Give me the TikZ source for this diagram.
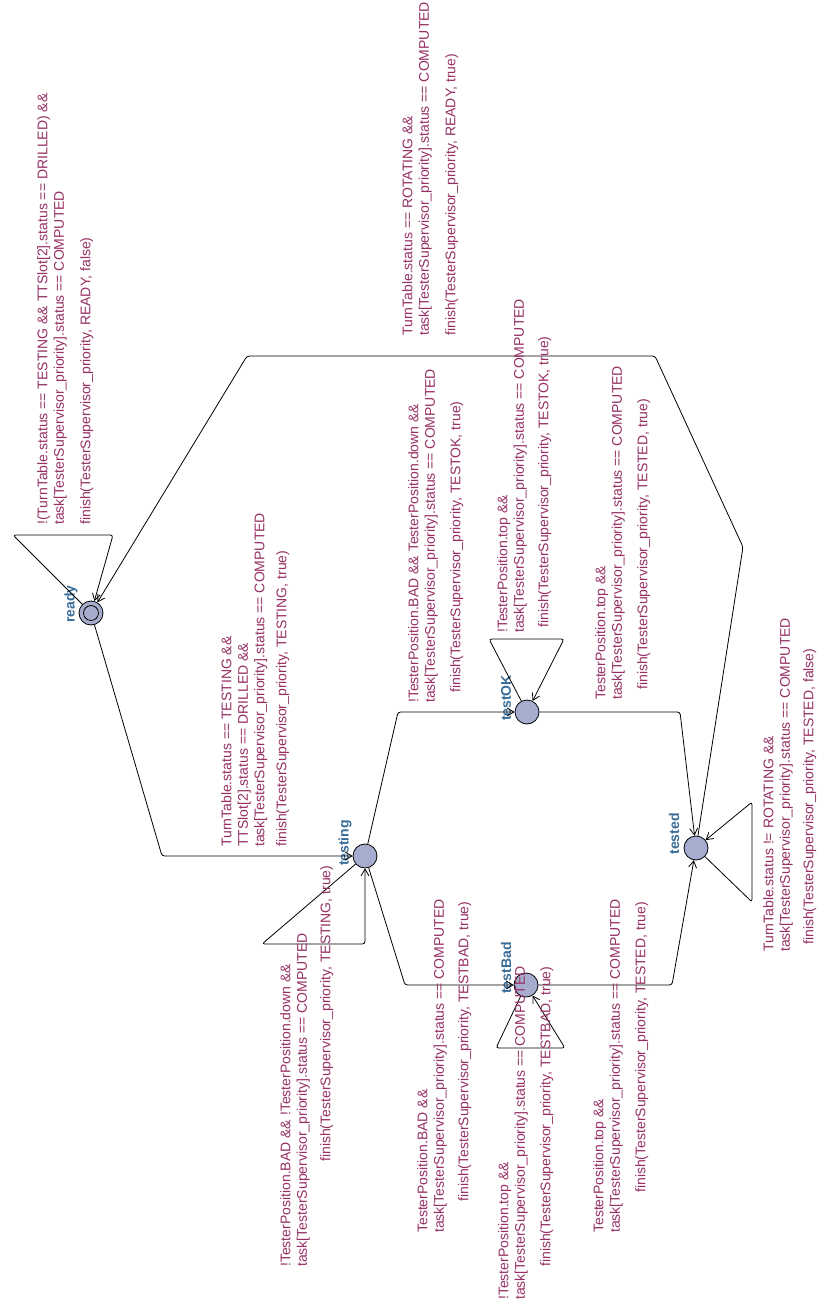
\documentclass[tikz,border=0pt]{standalone}
\usepackage{fontspec}
\setmainfont{Liberation Sans}
\usetikzlibrary{arrows.meta}
\definecolor{locfill}{RGB}{167,173,207}
\definecolor{locblue}{RGB}{58,108,152}
\definecolor{lblpurple}{RGB}{150,48,100}

\begin{document}
\begin{tikzpicture}[
        x=0.75pt, y=-0.75pt,
        loc/.style={circle, draw=black, line width=0.6pt, fill=locfill, minimum size=18pt, inner sep=0pt},
        initloc/.style={loc, path picture={\draw[line width=0.6pt] (path picture bounding box.center) circle [radius=5.6pt];}},
        locname/.style={rotate=90, inner sep=0pt, text=locblue, font=\bfseries\fontsize{10.5}{12}\selectfont},
        guard/.style={rotate=90, anchor=north west, align=left, inner sep=0pt, text=lblpurple, font=\fontsize{10.5}{12.4}\selectfont},
        trans/.style={draw=black, line width=0.6pt, rounded corners=2pt, -{Straight Barb[length=5pt, width=6pt]}}
    ]
    \useasboundingbox[fill=white] (0,0) rectangle (819,1306);

    % locations
    \node (ready) [initloc] at (91,613) {};
    \node (testing) [loc] at (365,856) {};
    \node (testOK) [loc] at (527,712) {};
    \node (testBad) [loc] at (526,985) {};
    \node (tested) [loc] at (696,848) {};

    \node (ready_name) [locname] at (71,604) {ready};
    \node (testing_name) [locname] at (345,843) {testing};
    \node (testOK_name) [locname] at (506,698) {testOK};
    \node (testBad_name) [locname] at (506,968) {testBad};
    \node (tested_name) [locname] at (674,834) {tested};

    % transitions
    \draw [trans] (ready) -- (13,535) -- (113,535) -- (ready);
    \draw [trans] (ready) -- (162,856) -- (testing);
    \draw [trans] (testing) -- (262,944) -- (365,944) -- (testing);
    \draw [trans] (testing) -- (398,712) -- (testOK);
    \draw [trans] (testing) -- (405,985) -- (testBad);
    \draw [trans] (testOK) -- (489,639) -- (564,639) -- (testOK);
    \draw [trans] (testBad) -- (496,1048) -- (565,1048) -- (testBad);
    \draw [trans] (testOK) -- (680,712) -- (tested);
    \draw [trans] (testBad) -- (672,985) -- (tested);
    \draw [trans] (tested) -- (752,902) -- (752,802) -- (tested);
    \draw [trans] (tested) -- (743,547) -- (655,356) -- (247,356) -- (ready);

    % guards and updates
    \node (ready_loop_guard) [guard] at (37,525) {!(TurnTable.status == TESTING \&\& TTSlot[2].status == DRILLED) \&\&\\task[TesterSupervisor\_priority].status == COMPUTED};
    \node (ready_loop_upd) [guard] at (80,525) {finish(TesterSupervisor\_priority, READY, false)};

    \node (ready_testing_guard) [guard] at (221,847) {TurnTable.status == TESTING \&\&\\TTSlot[2].status == DRILLED \&\&\\task[TesterSupervisor\_priority].status == COMPUTED};
    \node (ready_testing_upd) [guard] at (276,847) {finish(TesterSupervisor\_priority, TESTING, true)};

    \node (testing_loop_guard) [guard] at (280,1267) {!TesterPosition.BAD \&\& !TesterPosition.down \&\&\\task[TesterSupervisor\_priority].status == COMPUTED};
    \node (testing_loop_upd) [guard] at (320,1162) {finish(TesterSupervisor\_priority, TESTING, true)};

    \node (testing_ok_guard) [guard] at (408,703) {!TesterPosition.BAD \&\& TesterPosition.down \&\&\\task[TesterSupervisor\_priority].status == COMPUTED};
    \node (testing_ok_upd) [guard] at (450,693) {finish(TesterSupervisor\_priority, TESTOK, true)};

    \node (testing_bad_guard) [guard] at (417,1233) {TesterPosition.BAD \&\&\\task[TesterSupervisor\_priority].status == COMPUTED};
    \node (testing_bad_upd) [guard] at (458,1202) {finish(TesterSupervisor\_priority, TESTBAD, true)};

    \node (ok_loop_guard) [guard] at (497,633) {!TesterPosition.top \&\&\\task[TesterSupervisor\_priority].status == COMPUTED};
    \node (ok_loop_upd) [guard] at (538,628) {finish(TesterSupervisor\_priority, TESTOK, true)};

    \node (bad_loop_guard) [guard] at (498,1300) {!TesterPosition.top \&\&\\task[TesterSupervisor\_priority].status == COMPUTED};
    \node (bad_loop_upd) [guard] at (540,1267) {finish(TesterSupervisor\_priority, TESTBAD, true)};

    \node (ok_tested_guard) [guard] at (595,700) {TesterPosition.top \&\&\\task[TesterSupervisor\_priority].status == COMPUTED};
    \node (ok_tested_upd) [guard] at (637,690) {finish(TesterSupervisor\_priority, TESTED, true)};

    \node (bad_tested_guard) [guard] at (593,1233) {TesterPosition.top \&\&\\task[TesterSupervisor\_priority].status == COMPUTED};
    \node (bad_tested_upd) [guard] at (635,1193) {finish(TesterSupervisor\_priority, TESTED, true)};

    \node (tested_loop_guard) [guard] at (763,952) {TurnTable.status != ROTATING \&\&\\task[TesterSupervisor\_priority].status == COMPUTED};
    \node (tested_loop_upd) [guard] at (803,945) {finish(TesterSupervisor\_priority, TESTED, false)};

    \node (tested_ready_guard) [guard] at (402,336) {TurnTable.status == ROTATING \&\&\\task[TesterSupervisor\_priority].status == COMPUTED};
    \node (tested_ready_upd) [guard] at (445,336) {finish(TesterSupervisor\_priority, READY, true)};
\end{tikzpicture}
\end{document}
